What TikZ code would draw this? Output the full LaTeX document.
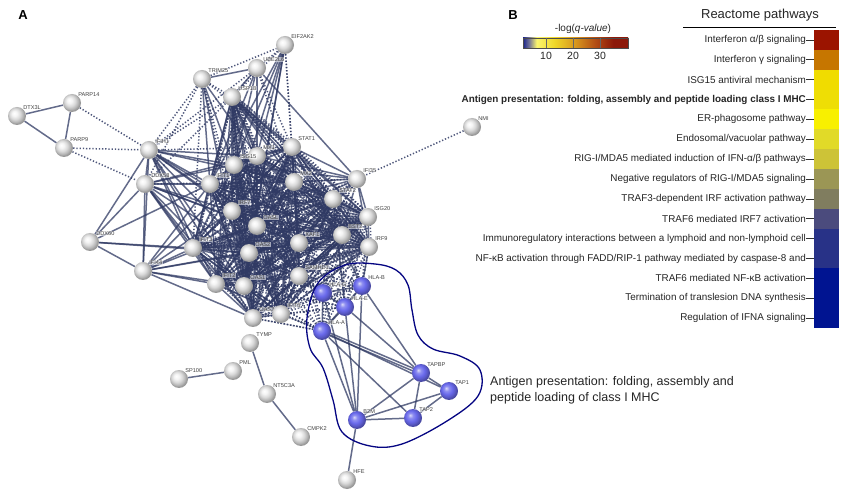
\documentclass[tikz,border=0pt]{standalone}
\usepackage{fontspec}
\setmainfont{Liberation Sans}
\usetikzlibrary{backgrounds}
\definecolor{edgec}{RGB}{48,58,100}
\definecolor{ringc}{RGB}{5,5,130}
\definecolor{bluenode}{RGB}{105,105,235}
\definecolor{cb0}{RGB}{25,35,140}
\definecolor{cb1}{RGB}{120,120,150}
\definecolor{cb2}{RGB}{250,245,110}
\definecolor{cb3}{RGB}{240,215,40}
\definecolor{cb4}{RGB}{215,150,30}
\definecolor{cb5}{RGB}{180,80,20}
\definecolor{cb6}{RGB}{140,25,10}
\definecolor{r1}{RGB}{155,20,0}
\definecolor{r2}{RGB}{198,118,0}
\definecolor{r3}{RGB}{240,220,0}
\definecolor{r4}{RGB}{238,222,5}
\definecolor{r5}{RGB}{248,240,0}
\definecolor{r6}{RGB}{225,218,40}
\definecolor{r7}{RGB}{205,195,55}
\definecolor{r8}{RGB}{155,150,85}
\definecolor{r9}{RGB}{128,125,95}
\definecolor{r10}{RGB}{75,75,125}
\definecolor{r11}{RGB}{40,50,135}
\definecolor{r12}{RGB}{40,50,135}
\definecolor{r13}{RGB}{0,20,145}
\definecolor{r14}{RGB}{0,20,145}
\definecolor{r15}{RGB}{0,20,145}
\pgfdeclarehorizontalshading{cbar}{100bp}{color(0bp)=(cb0); color(25bp)=(cb0); color(28bp)=(cb1); color(31.5bp)=(cb2); color(40bp)=(cb3); color(50bp)=(cb4); color(59bp)=(cb5); color(68bp)=(cb6); color(100bp)=(cb6)}
\pgfdeclareradialshading{gball}{\pgfqpoint{-8bp}{8bp}}{color(0bp)=(white); color(7bp)=(white!96!black); color(15bp)=(white!85!black); color(23bp)=(white!68!black); color(25bp)=(white!60!black); color(50bp)=(white!60!black)}
\pgfdeclareradialshading{bball}{\pgfqpoint{-8bp}{8bp}}{color(0bp)=(bluenode!25!white); color(7bp)=(bluenode!75!white); color(15bp)=(bluenode); color(23bp)=(bluenode!80!black); color(25bp)=(bluenode!70!black); color(50bp)=(bluenode!70!black)}
\newcommand\prow[3]{%
  \pgfmathsetmacro\yc{30+(#1-0.5)*19.87}%
  \fill[#2] (814,\yc-9.95) rectangle (839,\yc+9.95);
  \node[rowtxt] (row#1) at (806,\yc) {#3};
  \draw[line width=0.7pt, black!80] (806,\yc) -- (814,\yc);
}
\begin{document}
\begin{tikzpicture}[x=1pt,y=-1pt,
  gnode/.style={circle, minimum size=18pt, inner sep=0pt, shading=gball},
  bnode/.style={circle, minimum size=18pt, inner sep=0pt, shading=bball},
  lab/.style={font=\fontsize{5.6}{5.6}\selectfont, text=black!75, inner sep=0.4pt, fill=white, fill opacity=0.55, text opacity=1, label distance=-1pt},
  sedge/.style={draw=edgec, line width=1.5pt, draw opacity=0.75},
  dedge/.style={draw=edgec, line width=1.5pt, dash pattern=on 1.3pt off 1.9pt, draw opacity=0.85},
  rowtxt/.style={anchor=east, inner sep=0pt, font=\fontsize{9.9}{11}\selectfont, text=black!85}]
\useasboundingbox (0,0) rectangle (867,502);

% ---------- network nodes ----------
\foreach \n/\x/\y/\t in {DTX3L/17/116/DTX3L, PARP14/72/103/PARP14, PARP9/64/148/PARP9,
  IFIH1/149/150/IFIH1, TRIM25/202/79/TRIM25, UBE2L6/257/68/UBE2L6, EIF2AK2/285/45/EIF2AK2,
  USP18/232/97/USP18, STAT1/292/147/STAT1, MX1/257/156/MX1, ISG15/234/165/ISG15,
  IFIT1/210/184/IFIT1, DDX58/145/184/DDX58, MX2/294/182/MX2, IFI35/357/179/IFI35,
  STAT2/333/199/STAT2, NMI/472/127/NMI, IRF7/232/211/IRF7, OASL/257/226/OASL,
  ISG20/368/217/ISG20, BST2/342/235/BST2, IRF9/369/247/IRF9, DDX60/90/242/DDX60,
  IFIT3/193/248/IFIT3, OAS2/249/253/OAS2, XAF1/299/243/XAF1, IFI44/143/271/IFI44,
  IFIT2/216/284/IFIT2, OAS1/244/286/OAS1, SAMHD1/299/276/SAMHD1, OAS3/253/318/OAS3,
  IFIT5/281/314/IFIT5, TYMP/250/343/TYMP, PML/233/371/PML, SP100/179/379/SP100,
  NT5C3A/267/394/NT5C3A, CMPK2/301/437/CMPK2, HFE/347/480/HFE}
  \node[gnode, label={[lab]45:\t}] (\n) at (\x,\y) {};
\foreach \n/\x/\y/\t in {HLAB/362/286/HLA-B, HLAG/323/293/HLA-G, HLAE/345/307/HLA-E,
  HLAA/322/331/HLA-A, TAPBP/421/373/TAPBP, TAP1/449/391/TAP1, B2M/357/420/B2M, TAP2/413/418/TAP2}
  \node[bnode, label={[lab]45:\t}] (\n) at (\x,\y) {};

% ---------- edges ----------
\begin{scope}[on background layer]
  \fill[white] (0,0) rectangle (867,502);
  % dense core
  \foreach \a [count=\i] in {ISG15,IFIT1,MX1,MX2,STAT1,STAT2,IRF7,OASL,XAF1,OAS2,OAS1,IFIT3,IFIT2,OAS3,IFIT5,SAMHD1,BST2,IRF9,ISG20,USP18}{
    \foreach \b [count=\j] in {ISG15,IFIT1,MX1,MX2,STAT1,STAT2,IRF7,OASL,XAF1,OAS2,OAS1,IFIT3,IFIT2,OAS3,IFIT5,SAMHD1,BST2,IRF9,ISG20,USP18}{
      \ifnum\j>\i
        \draw[sedge] (\a.center) -- (\b.center);
        \draw[dedge] ([shift={(2pt,2pt)}]\a.center) -- ([shift={(2pt,2pt)}]\b.center);
      \fi
    }
  }
  % solid
  \foreach \a/\b in {DTX3L/PARP14, DTX3L/PARP9, PARP14/PARP9, TRIM25/UBE2L6, UBE2L6/IFI35,
    SP100/PML, TYMP/NT5C3A, NT5C3A/CMPK2, B2M/HFE,
    HLAA/TAP1, HLAA/TAP2, HLAA/B2M, HLAE/B2M, HLAE/TAPBP, HLAB/B2M, HLAB/TAPBP, HLAG/B2M,
    HLAG/HLAA, HLAG/HLAE, HLAB/HLAE, HLAA/HLAE, HLAB/HLAG, HLAB/HLAA,
    TAPBP/TAP1, TAPBP/TAP2, TAPBP/B2M, TAP1/TAP2, TAP1/B2M, TAP2/B2M,
    IFIH1/DDX58, IFIH1/IFIT1, IFIH1/ISG15, IFIH1/MX1, IFIH1/IFIT3, IFIH1/OAS2, IFIH1/IRF7,
    IFIH1/OASL, IFIH1/IFIT2, IFIH1/MX2, IFIH1/OAS1, IFIH1/DDX60, IFIH1/IFI44, IFIH1/XAF1, IFIH1/OAS3,
    DDX58/IFIT1, DDX58/IFIT3, DDX58/IRF7, DDX58/OAS2, DDX58/IFI44, DDX58/DDX60, DDX58/MX1,
    DDX58/ISG15, DDX58/OASL, DDX58/IFIT2, DDX58/OAS1, DDX58/OAS3, DDX58/XAF1,
    DDX60/IFI44, DDX60/IFIT3, DDX60/IFIT1, DDX60/OAS2,
    IFI44/IFIT3, IFI44/IFIT2, IFI44/OAS1, IFI44/OAS3, IFI44/IFIT1, IFI44/OAS2, IFI44/MX1,
    IFI44/IRF7, IFI44/XAF1, IFI44/OASL,
    TRIM25/ISG15, TRIM25/IFIT1, TRIM25/MX1, TRIM25/OAS1,
    UBE2L6/ISG15, UBE2L6/MX1, UBE2L6/IFIT1, UBE2L6/USP18,
    EIF2AK2/ISG15, EIF2AK2/MX1, EIF2AK2/IFIT1, EIF2AK2/OAS2, EIF2AK2/OAS1, EIF2AK2/IRF7,
    IFI35/STAT1, IFI35/MX1, IFI35/MX2, IFI35/STAT2, IFI35/ISG20, IFI35/BST2, IFI35/IRF9,
    IFI35/XAF1, IFI35/IRF7, IFI35/OASL, IFI35/ISG15,
    HLAB/IRF9, HLAB/STAT1, HLAE/STAT2}
    \draw[sedge] (\a) -- (\b);
  \draw[sedge] ([shift={(0pt,-1.4pt)}]HLAA.center) -- ([shift={(0pt,-1.4pt)}]TAPBP.center);
  \draw[sedge] ([shift={(0pt,1.4pt)}]HLAA.center) -- ([shift={(0pt,1.4pt)}]TAPBP.center);
  % dotted
  \foreach \a/\b in {PARP14/IFIH1, PARP9/IFIH1, PARP9/DDX58, NMI/IFI35, TRIM25/EIF2AK2,
    UBE2L6/EIF2AK2, TRIM25/USP18, TRIM25/IFIH1, TRIM25/DDX58, TRIM25/STAT1, TRIM25/IFIT3,
    TRIM25/OAS2, TRIM25/IRF7, EIF2AK2/USP18, EIF2AK2/STAT1, EIF2AK2/MX2, UBE2L6/USP18,
    UBE2L6/IFIH1, UBE2L6/STAT1, UBE2L6/MX2, USP18/IFIH1, USP18/DDX58, IFIH1/STAT1,
    DDX58/MX2, IFI35/IFIT1, IFI35/OAS1, IFI35/SAMHD1, IFI35/IFIT5, IFI35/OAS2, IFI35/IFIT3,
    OAS3/HLAA, IFIT5/HLAA, OAS1/HLAA}
    \draw[dedge] (\a) -- (\b);
  \foreach \a in {HLAA,HLAB,HLAE,HLAG}{
    \foreach \b in {SAMHD1,IFIT5,OAS3,OAS1,XAF1,BST2,IRF9,STAT2,ISG20,OAS2,IFIT2,IRF7,MX2}
      \draw[dedge] (\a) -- (\b);
  }
\end{scope}

% ring around antigen presentation cluster
\draw[ringc, line width=1.3pt] plot[smooth cycle, tension=0.6] coordinates {
  (345,265) (318,283) (307,318) (310,348) (323,368) (333,400) (342,432) (370,446) (402,444)
  (447,421) (478,396) (480,370) (460,356) (433,349) (418,335) (412,310) (408,285) (396,270) (375,264)};
\node[anchor=west, align=left, inner sep=0pt, font=\fontsize{12.5}{16}\selectfont, text=black!85] (annot) at (490,390)
  {Antigen presentation: folding, assembly and\\peptide loading of class I MHC};

% panel letters
\node[font=\bfseries\fontsize{13}{13}\selectfont] (labA) at (23,15) {A};
\node[font=\bfseries\fontsize{13}{13}\selectfont] (labB) at (513,15) {B};

% colour bar
\node[font=\fontsize{10}{10}\selectfont, text=black!85] (cbtitle) at (583,29) {-log(\textit{q-value})};
\shade[shading=cbar] (523,38) rectangle (628,48);
\draw[black!70, line width=0.4pt] (523,38) rectangle (628,48);
\foreach \x in {546,573,600} \draw[black!60, line width=0.5pt] (\x,38) -- (\x,48);
\node[font=\fontsize{10.5}{10.5}\selectfont, text=black!85] (t10) at (546,56) {10};
\node[font=\fontsize{10.5}{10.5}\selectfont, text=black!85] (t20) at (573,56) {20};
\node[font=\fontsize{10.5}{10.5}\selectfont, text=black!85] (t30) at (600,56) {30};

% reactome pathways
\node[font=\fontsize{13}{13}\selectfont, text=black!85] (rtitle) at (760,15) {Reactome pathways};
\draw[line width=0.9pt] (683,27) -- (836,27);
\prow{1}{r1}{Interferon α/β signaling}
\prow{2}{r2}{Interferon γ signaling}
\prow{3}{r3}{ISG15 antiviral mechanism}
\prow{4}{r4}{\bfseries Antigen presentation: folding, assembly and peptide loading class I MHC}
\prow{5}{r5}{ER-phagosome pathway}
\prow{6}{r6}{Endosomal/vacuolar pathway}
\prow{7}{r7}{RIG-I/MDA5 mediated induction of IFN-α/β pathways}
\prow{8}{r8}{Negative regulators of RIG-I/MDA5 signaling}
\prow{9}{r9}{TRAF3-dependent IRF activation pathway}
\prow{10}{r10}{TRAF6 mediated IRF7 activation}
\prow{11}{r11}{Immunoregulatory interactions between a lymphoid and non-lymphoid cell}
\prow{12}{r12}{NF-κB activation through FADD/RIP-1 pathway mediated by caspase-8 and\ }
\prow{13}{r13}{TRAF6 mediated NF-κB activation}
\prow{14}{r14}{Termination of translesion DNA synthesis}
\prow{15}{r15}{Regulation of IFNA signaling}
\end{tikzpicture}
\end{document}
